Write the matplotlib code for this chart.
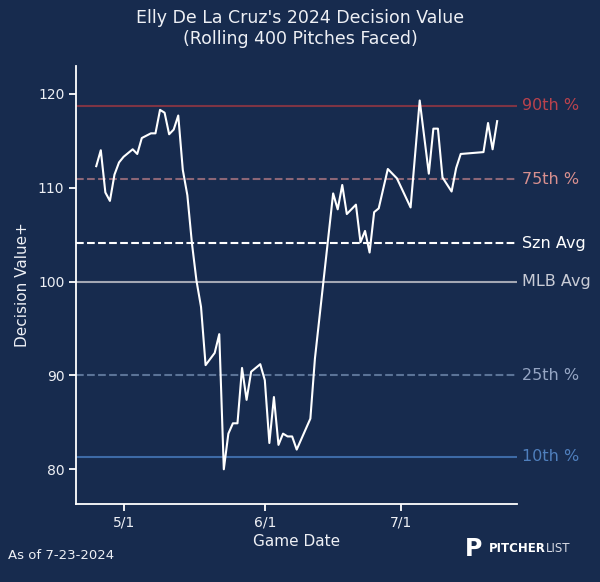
import datetime as dt
import matplotlib
matplotlib.use("Agg")
import matplotlib.pyplot as plt
import matplotlib.dates as mdates
import matplotlib.transforms as mtransforms
from matplotlib.ticker import FuncFormatter

# rolling decision value, one point per game
game_dates = [
    "2024-04-25", "2024-04-26", "2024-04-27", "2024-04-28", "2024-04-29", "2024-04-30",
    "2024-05-01", "2024-05-02", "2024-05-03", "2024-05-04", "2024-05-05", "2024-05-07",
    "2024-05-08", "2024-05-09", "2024-05-10", "2024-05-11", "2024-05-12", "2024-05-13",
    "2024-05-14", "2024-05-15", "2024-05-16", "2024-05-17", "2024-05-18", "2024-05-19",
    "2024-05-21", "2024-05-22", "2024-05-23", "2024-05-24", "2024-05-25", "2024-05-26",
    "2024-05-27", "2024-05-28", "2024-05-29", "2024-05-31", "2024-06-01", "2024-06-02",
    "2024-06-03", "2024-06-04", "2024-06-05", "2024-06-06", "2024-06-07", "2024-06-08",
    "2024-06-11", "2024-06-12", "2024-06-16", "2024-06-17", "2024-06-18", "2024-06-19",
    "2024-06-21", "2024-06-22", "2024-06-23", "2024-06-24", "2024-06-25", "2024-06-26",
    "2024-06-28", "2024-06-30", "2024-07-03", "2024-07-05", "2024-07-07", "2024-07-08",
    "2024-07-09", "2024-07-10", "2024-07-12", "2024-07-13", "2024-07-14", "2024-07-19",
    "2024-07-20", "2024-07-21", "2024-07-22",
]
decision_value = [
    112.3, 114.0, 109.5, 108.6, 111.4, 112.7,
    113.3, 113.7, 114.1, 113.6, 115.3, 115.8,
    115.8, 118.3, 118.0, 115.7, 116.2, 117.7,
    111.9, 109.2, 104.1, 100.1, 97.3, 91.1,
    92.4, 94.4, 80.0, 83.8, 84.9, 84.9,
    90.8, 87.4, 90.4, 91.2, 89.5, 82.8,
    87.7, 82.6, 83.8, 83.5, 83.5, 82.1,
    85.4, 91.8, 109.4, 107.7, 110.3, 107.2,
    108.2, 104.2, 105.4, 103.1, 107.4, 107.8,
    112.0, 111.0, 107.9, 119.3, 111.5, 116.3,
    116.3, 111.1, 109.6, 112.1, 113.6, 113.8,
    116.9, 114.1, 117.1,
]

# reference lines: label, value, line colour, text colour, style
ref_labels = ["90th %", "75th %", "Szn Avg", "MLB Avg", "25th %", "10th %"]
ref_values = [118.75, 110.9, 104.1, 100.0, 90.0, 81.35]
ref_line_colors = ["#7e3444", "#8c6676", "#ffffff", "#a3a7b3", "#5b7397", "#3d6aa6"]
ref_text_colors = ["#b9424d", "#d8908f", "#ffffff", "#c9ccd6", "#95a5c3", "#4f7fbd"]
ref_styles = ["-", "--", "--", "-", "--", "-"]

BG = "#172b4e"
FG = "#eef0f5"

dates = [dt.datetime.strptime(d, "%Y-%m-%d") for d in game_dates]

fig = plt.figure(figsize=(6.0, 5.82), dpi=100, facecolor=BG)
ax = fig.add_axes([0.127, 0.134, 0.735, 0.753])
ax.set_facecolor(BG)

for lab, val, lc, style in zip(ref_labels, ref_values, ref_line_colors, ref_styles):
    ax.axhline(val, color=lc, linestyle=style, linewidth=1.5, zorder=1)

ax.plot(dates, decision_value, color="white", linewidth=1.5, zorder=3)

ax.set_ylim(76.3, 123.0)
ax.set_yticks([80, 90, 100, 110, 120])

ax.xaxis.set_major_locator(mdates.MonthLocator(bymonthday=1))
ax.xaxis.set_major_formatter(
    FuncFormatter(lambda x, pos: f"{mdates.num2date(x).month}/{mdates.num2date(x).day}"))

trans = mtransforms.blended_transform_factory(ax.transAxes, ax.transData)
for lab, val, tc in zip(ref_labels, ref_values, ref_text_colors):
    ax.text(1.012, val, lab, transform=trans, color=tc, fontsize=11.5,
            va="center", ha="left", clip_on=False)

for side in ["top", "right"]:
    ax.spines[side].set_visible(False)
for side in ["left", "bottom"]:
    ax.spines[side].set_color("white")
    ax.spines[side].set_linewidth(1.3)
ax.tick_params(colors="white", labelcolor=FG, labelsize=10, width=1.3, length=5)

ax.set_xlabel("Game Date", color=FG, fontsize=11, labelpad=3)
ax.set_ylabel("Decision Value+", color=FG, fontsize=11, labelpad=6)

fig.text(0.5, 0.985, "Elly De La Cruz's 2024 Decision Value\n(Rolling 400 Pitches Faced)",
         ha="center", va="top", color=FG, fontsize=12.5, linespacing=1.2)

fig.text(0.013, 0.045, "As of 7-23-2024", color=FG, fontsize=9.5, ha="left", va="center")

# logo: P mark, then PITCHER (bold) and LIST (light) side by side
fig.text(0.775, 0.057, "P", color="white", fontsize=17, fontweight="bold",
         ha="left", va="center")
pitcher = fig.text(0.815, 0.057, "PITCHER", color="white", fontsize=8.5,
                   fontweight="bold", ha="left", va="center")
fig.canvas.draw()
bb = pitcher.get_window_extent().transformed(fig.transFigure.inverted())
fig.text(bb.x1, 0.057, "LIST", color="#d9dce5", fontsize=8.5, ha="left", va="center")

fig.savefig("out.png", dpi=100, facecolor=BG)
